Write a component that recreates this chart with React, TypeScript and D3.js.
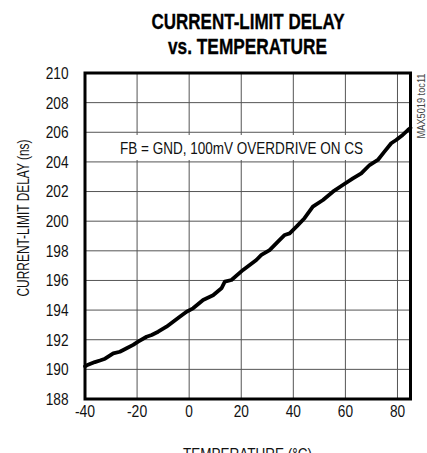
import React from "react";
import * as d3 from "d3";

const temps = [-40, -39.3, -36.2, -34.25, -32.3, -29.15, -26.6, -24.0, -21.5, -19.6, -16.35, -14.4, -11.9, -8.7, -6.15, -3.6, -1.0, 1.5, 5.35, 9.2, 12.4, 13.7, 16.25, 20.7, 25.8, 27.75, 30.9, 34.1, 36.7, 38.6, 41.2, 44.3, 47.5, 51.4, 55.2, 59.0, 62.9, 66.1, 69.3, 72.45, 75.0, 77.6, 79.5, 82.0, 84.0, 85];
const delays = [190.2, 190.27, 190.49, 190.6, 190.72, 191.08, 191.19, 191.42, 191.65, 191.87, 192.2, 192.32, 192.54, 192.88, 193.22, 193.55, 193.89, 194.12, 194.68, 195.0, 195.47, 195.92, 196.03, 196.71, 197.38, 197.72, 198.05, 198.62, 199.07, 199.18, 199.63, 200.2, 200.98, 201.43, 201.99, 202.44, 202.89, 203.23, 203.79, 204.13, 204.69, 205.26, 205.48, 205.82, 206.15, 206.3];

const xTicks = [-40, -20, 0, 20, 40, 60, 80];
const yTicks = [188, 190, 192, 194, 196, 198, 200, 202, 204, 206, 208, 210];

const titleLines = ["CURRENT-LIMIT DELAY", "vs. TEMPERATURE"];
const xLabel = "TEMPERATURE (°C)";
const yLabel = "CURRENT-LIMIT DELAY (ns)";
const note = "FB = GND, 100mV OVERDRIVE ON CS";
const docId = "MAX5019 toc11";

const FONT = "'Liberation Sans Narrow', 'Arial Narrow', 'Liberation Sans', Arial, sans-serif";

function numLen(s: string) {
  let w = 0;
  for (const c of s) w += c === "-" ? 5 : 7.6;
  return w;
}

export default function App() {
  const W = 427, H = 453;
  const left = 85, right = 410.5, top = 73, bottom = 399;
  const x = d3.scaleLinear().domain([-40, 85]).range([left, right]);
  const y = d3.scaleLinear().domain([188, 210]).range([bottom, top]);
  const line = d3.line<number>().x((d) => x(temps[d])).y((d) => y(delays[d]));
  const idx = temps.map((_, i) => i);

  return (
    <svg width={W} height={H} style={{ position: "absolute", left: 0, top: 0, background: "#fff" }} fontFamily={FONT}>
      <rect x={0} y={0} width={W} height={H} fill="#fff" />
      <text x={248} y={28.5} textAnchor="middle" fontWeight="bold" fontSize={21.5} stroke="#000" strokeWidth={0.3} textLength={193} lengthAdjust="spacingAndGlyphs">{titleLines[0]}</text>
      <text x={247.5} y={53.5} textAnchor="middle" fontWeight="bold" fontSize={21.5} stroke="#000" strokeWidth={0.3} textLength={159} lengthAdjust="spacingAndGlyphs">{titleLines[1]}</text>

      {xTicks.map((t) => (
        <line key={"gx" + t} x1={x(t)} x2={x(t)} y1={top} y2={bottom} stroke="#555" strokeWidth={1} />
      ))}
      {yTicks.map((t) => (
        <line key={"gy" + t} x1={left} x2={right} y1={y(t)} y2={y(t)} stroke="#555" strokeWidth={1} />
      ))}

      <rect x={108} y={135} width={278} height={25} fill="#fff" />
      <text x={120} y={154} fontSize={16.5} fill="#111" textLength={243} lengthAdjust="spacingAndGlyphs">{note}</text>

      <path d={line(idx) || ""} fill="none" stroke="#000" strokeWidth={3.8} strokeLinejoin="round" strokeLinecap="round" />

      <rect x={left} y={top} width={right - left} height={bottom - top} fill="none" stroke="#000" strokeWidth={3} />

      {yTicks.map((t) => (
        <text key={"ty" + t} x={68.5} y={y(t)} dy="0.36em" textAnchor="end" fontSize={16.5} fill="#111" textLength={numLen(String(t))} lengthAdjust="spacingAndGlyphs">{t}</text>
      ))}
      {xTicks.map((t) => (
        <text key={"tx" + t} x={x(t)} y={417} textAnchor="middle" fontSize={16.5} fill="#111" textLength={numLen(String(t))} lengthAdjust="spacingAndGlyphs">{t}</text>
      ))}

      <text x={247.5} y={459.5} textAnchor="middle" fontSize={16.5} fill="#111" textLength={129} lengthAdjust="spacingAndGlyphs">{xLabel}</text>
      <text transform={`translate(29,218) rotate(-90)`} textAnchor="middle" fontSize={16} fill="#111" textLength={157} lengthAdjust="spacingAndGlyphs">{yLabel}</text>
      <text transform={`translate(425,106) rotate(-90)`} textAnchor="middle" fontSize={10} fill="#444" textLength={65} lengthAdjust="spacingAndGlyphs">{docId}</text>
    </svg>
  );
}
